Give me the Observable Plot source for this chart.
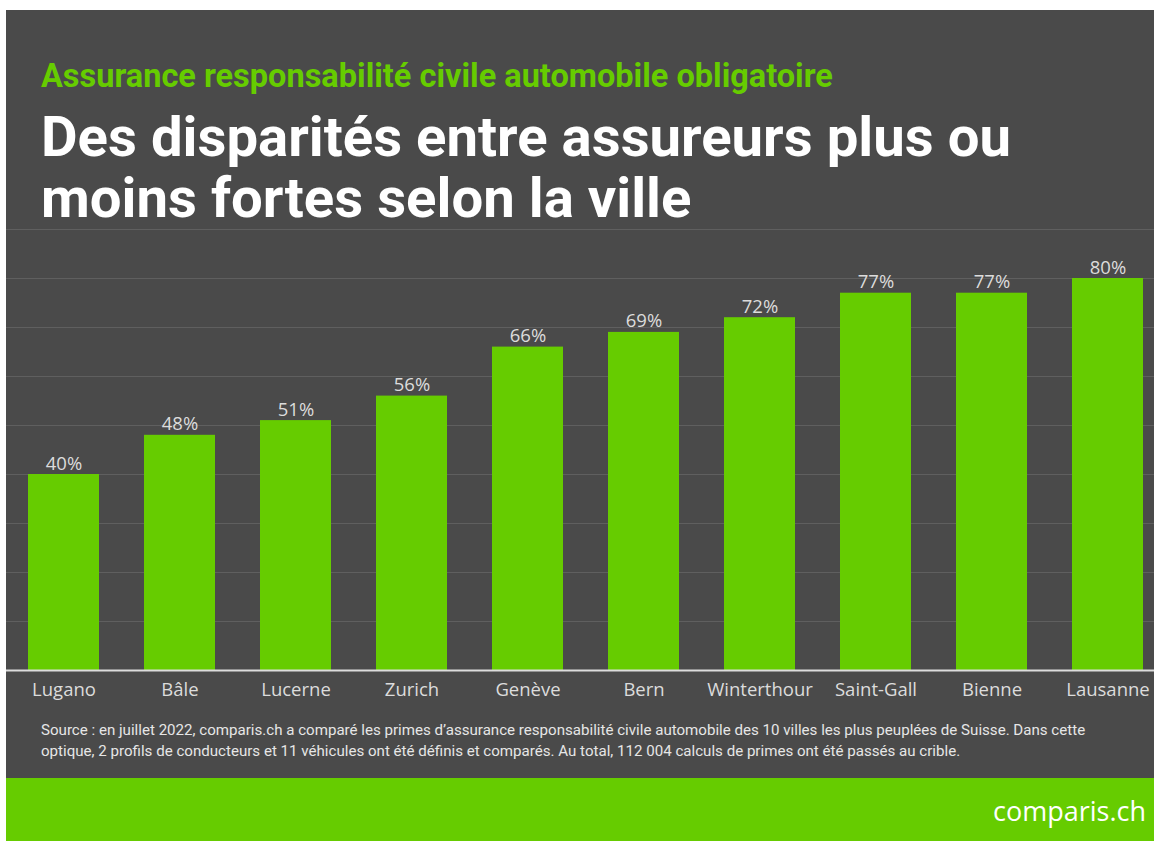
<!DOCTYPE html>
<html>
<head>
<meta charset="utf-8">
<script src="https://cdn.jsdelivr.net/npm/d3@7"></script>
<script src="https://cdn.jsdelivr.net/npm/@observablehq/plot@0.6"></script>
<style>
  html, body { margin: 0; padding: 0; background: #fff; width: 1154px; height: 841px; overflow: hidden; }
  #panel { position: absolute; left: 6px; top: 10px; width: 1148px; height: 768px; background: #4a4a4a; }
  #band { position: absolute; left: 6px; top: 778px; width: 1148px; height: 63px; background: #66cc00; }
  .sub { position: absolute; left: 35px; top: 47px; font-family: Roboto, sans-serif; font-weight: 700; font-size: 32.5px; line-height: 38px; color: #66cc00; white-space: nowrap; }
  .title { position: absolute; left: 35px; top: 97px; font-family: Roboto, sans-serif; font-weight: 700; font-size: 56.3px; line-height: 61px; color: #fff; white-space: nowrap; }
  .source { position: absolute; left: 35px; top: 710px; font-family: Roboto, sans-serif; font-weight: 400; font-size: 15.1px; line-height: 21px; color: #e6e6e6; white-space: nowrap; }
  #chart { position: absolute; left: 0px; top: 205px; }
  .logo { position: absolute; right: 8px; top: 1px; font-family: "Open Sans", sans-serif; font-size: 27px; line-height: 63px; color: #fff; }
</style>
</head>
<body>
<div id="panel">
  <div class="sub">Assurance responsabilité civile automobile obligatoire</div>
  <div class="title">Des disparités entre assureurs plus ou<br>moins fortes selon la ville</div>
  <div id="chart"></div>
  <div class="source">Source : en juillet 2022, comparis.ch a comparé les primes d’assurance responsabilité civile automobile des 10 villes les plus peuplées de Suisse. Dans cette<br>optique, 2 profils de conducteurs et 11 véhicules ont été définis et comparés. Au total, 112 004 calculs de primes ont été passés au crible.</div>
</div>
<div id="band"><div class="logo">comparis.ch</div></div>
<script>
const cities = ["Lugano", "Bâle", "Lucerne", "Zurich", "Genève", "Bern", "Winterthour", "Saint-Gall", "Bienne", "Lausanne"];
const shares = [40, 48, 51, 56, 66, 69, 72, 77, 77, 80];
const gridTicks = [10, 20, 30, 40, 50, 60, 70, 80, 90];

const data = cities.map((c, i) => ({city: c, value: shares[i]}));

const chart = Plot.plot({
  width: 1148,
  height: 505,
  marginTop: 14,
  marginBottom: 50,
  marginLeft: 0,
  marginRight: 0,
  style: {background: "transparent", fontFamily: "'Open Sans', sans-serif", color: "#dcdcdc", overflow: "visible"},
  x: {domain: cities, range: [10.5, 1148], paddingInner: 0.389, paddingOuter: 0.09, label: null, tickSize: 0, tickPadding: 12},
  y: {domain: [0, 90], axis: null},
  marks: [
    Plot.ruleY(gridTicks, {stroke: "#5f5f5f", strokeWidth: 1}),
    Plot.barY(data, {x: "city", y: "value", fill: "#66cc00"}),
    Plot.text(data, {x: "city", y: "value", text: d => d.value + "%", lineAnchor: "bottom", dy: -5, fill: "#dcdcdc", fontSize: 18.5}),
    Plot.ruleY([0], {stroke: "#dcdcdc", strokeWidth: 2})
  ]
});
const xa = chart.querySelector("[aria-label='x-axis tick label']");
if (xa) xa.setAttribute("font-size", 18.5);
document.getElementById("chart").appendChild(chart);
</script>
</body>
</html>
